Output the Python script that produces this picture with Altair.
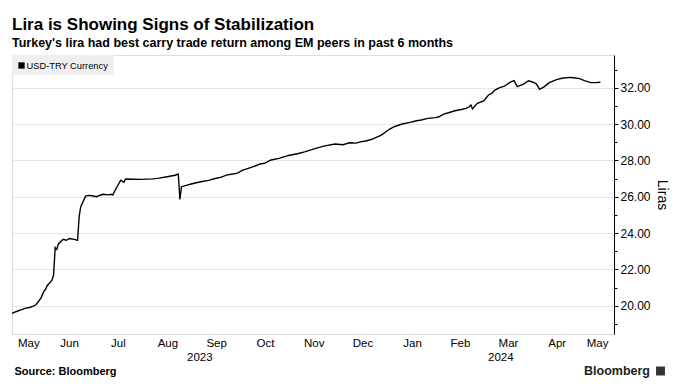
import altair as alt
import pandas as pd

# ---------------- data ----------------
dates = [
    "2023-05-11", "2023-05-12", "2023-05-15", "2023-05-17", "2023-05-19", "2023-05-22",
    "2023-05-24", "2023-05-26", "2023-05-29", "2023-05-31", "2023-06-01", "2023-06-02",
    "2023-06-05", "2023-06-06", "2023-06-07", "2023-06-08", "2023-06-09", "2023-06-12",
    "2023-06-14", "2023-06-16", "2023-06-19", "2023-06-21", "2023-06-22", "2023-06-23",
    "2023-06-26", "2023-06-28", "2023-06-30", "2023-07-03", "2023-07-05", "2023-07-07",
    "2023-07-10", "2023-07-12", "2023-07-13", "2023-07-14", "2023-07-18", "2023-07-20",
    "2023-07-21", "2023-07-25", "2023-07-31", "2023-08-07", "2023-08-11", "2023-08-16",
    "2023-08-21", "2023-08-23", "2023-08-24", "2023-08-25", "2023-08-28", "2023-08-31",
    "2023-09-06", "2023-09-11", "2023-09-15", "2023-09-19", "2023-09-22", "2023-09-27",
    "2023-09-29", "2023-10-02", "2023-10-09", "2023-10-13", "2023-10-16", "2023-10-20",
    "2023-10-25", "2023-10-31", "2023-11-06", "2023-11-10", "2023-11-17", "2023-11-22",
    "2023-11-29", "2023-12-04", "2023-12-08", "2023-12-12", "2023-12-15", "2023-12-19",
    "2023-12-22", "2023-12-28", "2024-01-02", "2024-01-05", "2024-01-10", "2024-01-15",
    "2024-01-19", "2024-01-22", "2024-01-26", "2024-01-31", "2024-02-02", "2024-02-05",
    "2024-02-08", "2024-02-12", "2024-02-16", "2024-02-19", "2024-02-21", "2024-02-22",
    "2024-02-23", "2024-02-26", "2024-03-01", "2024-03-04", "2024-03-06", "2024-03-08",
    "2024-03-11", "2024-03-14", "2024-03-15", "2024-03-18", "2024-03-20", "2024-03-22",
    "2024-03-26", "2024-03-29", "2024-04-01", "2024-04-03", "2024-04-05", "2024-04-08",
    "2024-04-11", "2024-04-16", "2024-04-19", "2024-04-24", "2024-04-26", "2024-04-30",
    "2024-05-03", "2024-05-07", "2024-05-10", "2024-05-13",
]
usd_try = [
    19.58, 19.62, 19.72, 19.78, 19.85, 19.90,
    19.96, 20.05, 20.40, 20.80, 20.90, 21.10,
    21.40, 21.68, 23.20, 23.10, 23.40, 23.65,
    23.60, 23.70, 23.65, 23.60, 24.90, 25.45,
    26.03, 26.07, 26.05, 26.00, 26.08, 26.13,
    26.10, 26.13, 26.09, 26.27, 26.91, 26.79,
    26.97, 26.96, 26.95, 26.98, 27.02, 27.10,
    27.18, 27.25, 25.85, 26.55, 26.62, 26.70,
    26.82, 26.90, 27.00, 27.08, 27.19, 27.26,
    27.30, 27.45, 27.65, 27.80, 27.84, 28.02,
    28.11, 28.27, 28.38, 28.47, 28.66, 28.78,
    28.90, 28.86, 28.97, 28.95, 29.02, 29.08,
    29.16, 29.39, 29.71, 29.85, 30.00, 30.09,
    30.18, 30.22, 30.31, 30.35, 30.40, 30.55,
    30.62, 30.73, 30.80, 30.86, 30.95, 31.05,
    30.83, 31.14, 31.27, 31.60, 31.69, 31.87,
    32.00, 32.09, 32.15, 32.32, 32.39, 32.06,
    32.20, 32.38, 32.30, 32.20, 31.91, 32.06,
    32.28, 32.46, 32.52, 32.57, 32.55, 32.50,
    32.39, 32.28, 32.28, 32.30,
]
month_labels = ["May", "Jun", "Jul", "Aug", "Sep", "Oct", "Nov", "Dec",
                "Jan", "Feb", "Mar", "Apr", "May"]
month_starts = ["2023-05-01", "2023-06-01", "2023-07-01", "2023-08-01", "2023-09-01",
                "2023-10-01", "2023-11-01", "2023-12-01", "2024-01-01", "2024-02-01",
                "2024-03-01", "2024-04-01", "2024-05-01", "2024-06-01"]
year_labels = ["2023", "2024"]
year_starts = ["2023-01-01", "2024-01-01", "2025-01-01"]
y_ticks = list(range(19, 34))

x_start = "2023-05-11"
x_end = "2024-05-21 12:00"

TITLE = "Lira is Showing Signs of Stabilization"
SUBTITLE = "Turkey's lira had best carry trade return among EM peers in past 6 months"
SOURCE = "Source: Bloomberg"
LEGEND = "USD-TRY Currency"

# ---------------- helpers ----------------
def ms(s):
    return int(pd.Timestamp(s).value // 10**6)

d0, d1 = ms(x_start), ms(x_end)

def visible_mid(a, b):
    a, b = max(ms(a), d0), min(ms(b), d1)
    return (a + b) / 2

line_df = pd.DataFrame({"date": [ms(d) for d in dates], "value": usd_try})
month_df = pd.DataFrame({
    "mid": [visible_mid(month_starts[i], month_starts[i + 1]) for i in range(len(month_labels))],
    "label": month_labels,
})
year_df = pd.DataFrame({
    "mid": [visible_mid(year_starts[i], year_starts[i + 1]) for i in range(len(year_labels))],
    "label": year_labels,
})
grid_vals = [ms(m) for m in month_starts if d0 < ms(m) < d1]

W, H = 602, 279
FONT = "Liberation Sans"
GRID = "#e4e4e4"

x_scale = alt.Scale(type="utc", domain=[d0, d1])
y_scale = alt.Scale(domain=[18.44, 33.8], nice=False, zero=False)

line = alt.Chart(line_df).mark_line(color="black", strokeWidth=1.4).encode(
    x=alt.X("date:T", scale=x_scale,
            axis=alt.Axis(values=grid_vals, grid=True, gridColor=GRID, labels=False,
                          ticks=False, domain=False, title=None)),
    y=alt.Y("value:Q", scale=y_scale,
            axis=alt.Axis(orient="right", values=y_ticks,
                          labelExpr="datum.value % 2 == 0 ? format(datum.value, '.2f') : ''",
                          tickSize={"condition": {"test": "datum.value % 2 != 0", "value": 3}, "value": 4},
                          gridOpacity={"condition": {"test": "datum.value % 2 != 0", "value": 0}, "value": 1},
                          gridColor=GRID, domainColor="black", tickColor="black",
                          labelFont=FONT, labelFontSize=12, labelColor="black", labelPadding=2,
                          title="Liras", titleFont=FONT, titleFontSize=14, titleFontWeight="normal",
                          titleColor="black", titleAngle=90, titlePadding=4)),
)

months = alt.Chart(month_df).mark_text(font=FONT, fontSize=11.5, color="black",
                                       baseline="alphabetic").encode(
    x=alt.X("mid:T", scale=x_scale, axis=None),
    y=alt.value(H + 13),
    text="label:N",
)
years = alt.Chart(year_df).mark_text(font=FONT, fontSize=11.5, color="black",
                                     baseline="alphabetic").encode(
    x=alt.X("mid:T", scale=x_scale, axis=None),
    y=alt.value(H + 26.5),
    text="label:N",
)

one = pd.DataFrame({"t": [0]})
legend_box = alt.Chart(one).mark_rect(color="#efefef").encode(
    x=alt.value(0), x2=alt.value(102), y=alt.value(0), y2=alt.value(20))
legend_sq = alt.Chart(one).mark_square(color="black", opacity=1, size=40).encode(
    x=alt.value(9.5), y=alt.value(10.5))
legend_txt = alt.Chart(pd.DataFrame({"t": [LEGEND]})).mark_text(
    font=FONT, fontSize=9.3, color="black", align="left", baseline="alphabetic").encode(
    x=alt.value(14.5), y=alt.value(14), text="t:N")

title = alt.Chart(pd.DataFrame({"t": [TITLE]})).mark_text(
    font=FONT, fontSize=17, fontWeight="bold", color="black", align="left",
    baseline="alphabetic").encode(x=alt.value(0), y=alt.value(-25), text="t:N")
subtitle = alt.Chart(pd.DataFrame({"t": [SUBTITLE]})).mark_text(
    font=FONT, fontSize=12.5, fontWeight="bold", color="black", align="left",
    baseline="alphabetic").encode(x=alt.value(0), y=alt.value(-8), text="t:N")
source = alt.Chart(pd.DataFrame({"t": [SOURCE]})).mark_text(
    font=FONT, fontSize=11, fontWeight="bold", color="black", align="left",
    baseline="alphabetic").encode(x=alt.value(2.5), y=alt.value(H + 41), text="t:N")
brand = alt.Chart(pd.DataFrame({"t": ["Bloomberg"]})).mark_text(
    font=FONT, fontSize=12.5, fontWeight="bold", color="#222222", align="right",
    baseline="alphabetic").encode(x=alt.value(638), y=alt.value(H + 41), text="t:N")
brand_sq = alt.Chart(one).mark_square(color="#333333", opacity=1, size=80).encode(
    x=alt.value(648.5), y=alt.value(H + 37))

chart = alt.layer(
    line, legend_box, legend_sq, legend_txt, months, years,
    title, subtitle, source, brand, brand_sq,
).properties(
    width=W, height=H,
    autosize=alt.AutoSizeParams(type="none"),
    padding={"left": 4, "top": 47, "right": 57, "bottom": 50},
).configure_view(stroke=None).configure(background="white")

chart.save("out.html", embed_options={"renderer": "svg", "actions": False})
